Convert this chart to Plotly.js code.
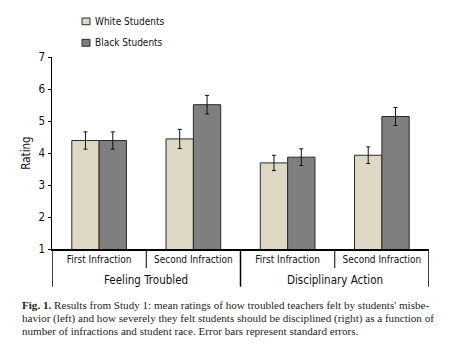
<!DOCTYPE html>
<html><head><meta charset="utf-8">
<script src="https://cdn.plot.ly/plotly-3.0.1.min.js"></script>
<style>html,body{margin:0;padding:0;background:#fff;}</style>
</head><body>
<div id="chart" style="width:472px;height:352px;"></div>
<script>
const groups = ["Feeling Troubled","Disciplinary Action"];
const conditions = ["First Infraction","Second Infraction","First Infraction","Second Infraction"];
const seriesNames = ["White Students","Black Students"];
const whiteMeans = [4.39, 4.44, 3.69, 3.93];
const whiteSE = [0.27, 0.30, 0.24, 0.26];
const blackMeans = [4.39, 5.51, 3.87, 5.14];
const blackSE = [0.27, 0.29, 0.26, 0.28];
const yTicks = [1,2,3,4,5,6,7];
const captionLines = [
  "<b>Fig. 1.</b> Results from Study 1: mean ratings of how troubled teachers felt by students' misbe-",
  "havior (left) and how severely they felt students should be disciplined (right) as a function of",
  "number of infractions and student race. Error bars represent standard errors."
];

const font = "Liberation Sans Narrow, DejaVu Sans Condensed, Arial Narrow, Liberation Sans, Arial, sans-serif";
const colors = ["#dcd8c3", "#7f7f7f"];
const xIdx = conditions.map((_, i) => i);

const traces = [
  {type:"bar", name:seriesNames[0], x:xIdx, y:whiteMeans,
   marker:{color:colors[0], line:{color:"#2b2b2b", width:1}},
   error_y:{type:"data", array:whiteSE, visible:true, color:"#111", thickness:1, width:2}},
  {type:"bar", name:seriesNames[1], x:xIdx, y:blackMeans,
   marker:{color:colors[1], line:{color:"#2b2b2b", width:1}},
   error_y:{type:"data", array:blackSE, visible:true, color:"#111", thickness:1, width:2}}
];

const shapes = [];
const annotations = [];
[-0.5, 0.5, 1.5, 2.5, 3.5].forEach((b, i) => {
  shapes.push({type:"line", xref:"x", yref:"paper", x0:b, x1:b, y0:0, y1:(i % 2 === 0 ? -0.196 : -0.099),
               line:{color:"#000", width:(i % 2 === 0 ? 1.5 : 1)}});
});
groups.forEach((g, i) => {
  annotations.push({text:g, xref:"x", yref:"paper", x:i*2+0.5, y:-0.16, xanchor:"center", yanchor:"middle",
                    showarrow:false, font:{family:font, size:11.5, color:"#111"}});
});
const legY = [[1.168, 1.203, 1.186], [1.056, 1.092, 1.074]];
seriesNames.forEach((n, i) => {
  shapes.push({type:"rect", xref:"paper", yref:"paper", x0:0.0796, x1:0.1008, y0:legY[i][0], y1:legY[i][1],
               fillcolor:colors[i], line:{color:"#2b2b2b", width:1}});
  annotations.push({text:n, xref:"paper", yref:"paper", x:0.1095, y:legY[i][2], xanchor:"left", yanchor:"middle",
                    showarrow:false, font:{family:font, size:10, color:"#111"}});
});
const capY = [-0.294, -0.3594, -0.4255];
captionLines.forEach((t, i) => {
  annotations.push({text:t, xref:"paper", yref:"paper", x:-0.085, y:capY[i], xanchor:"left", yanchor:"middle",
     align:"left", showarrow:false, font:{family:"Liberation Serif, Times New Roman, serif", size:11.1, color:"#231f20"}});
});

const layout = {
  width:472, height:352,
  margin:{l:52, r:43, t:57, b:103},
  paper_bgcolor:"#fff", plot_bgcolor:"#fff",
  font:{family:font, size:10, color:"#111"},
  barmode:"group", bargap:0.42, bargroupgap:0,
  showlegend:false,
  xaxis:{range:[-0.5, 3.5], tickvals:xIdx, ticktext:conditions, showline:true, linecolor:"#000", linewidth:1.5,
         ticks:"", showgrid:false, zeroline:false, tickfont:{family:font, size:10, color:"#111"}},
  yaxis:{range:[1,7], tickvals:yTicks, ticks:"outside", ticklen:3, tickcolor:"#000",
         showline:true, linecolor:"#000", linewidth:1.5, showgrid:false, zeroline:false,
         tickfont:{family:font, size:11.5, color:"#111"},
         title:{text:"Rating", font:{family:font, size:11.5, color:"#111"}, standoff:5}},
  shapes:shapes,
  annotations:annotations
};
Plotly.newPlot("chart", traces, layout, {displayModeBar:false, staticPlot:true});
</script>
</body></html>
